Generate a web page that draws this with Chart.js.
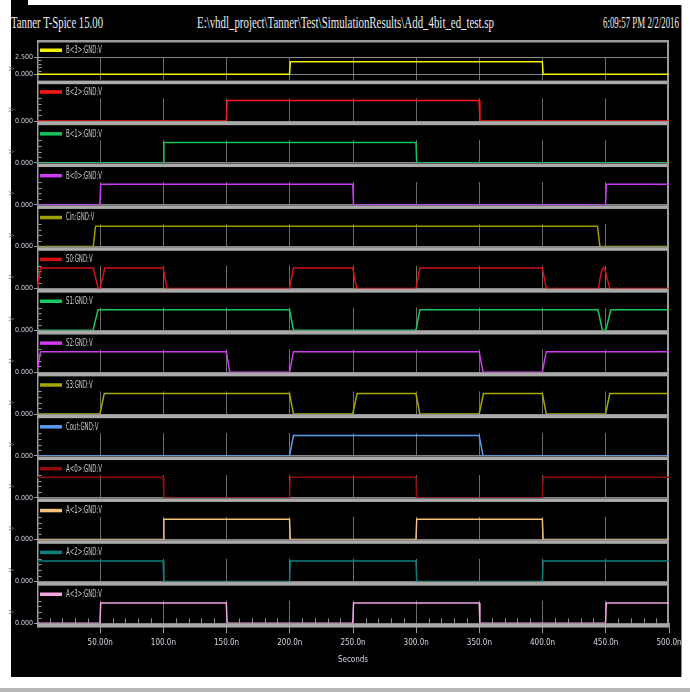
<!DOCTYPE html>
<html>
<head>
<meta charset="utf-8">
<title>Add_4bit_ed_test.sp</title>
<script src="https://cdn.jsdelivr.net/npm/chart.js@4.4.1/dist/chart.umd.min.js"></script>
<style>
  html, body { margin: 0; padding: 0; background: #fff; }
  #frame { position: relative; width: 690px; height: 692px; overflow: hidden; background: #fff; }
  #screen { position: absolute; left: 11px; top: 5px; width: 670px; height: 672px; background: #000; }
  #corner { position: absolute; left: 11px; top: 0; width: 17px; height: 5px; background: #000; }
  #edgeRight { position: absolute; left: 681px; top: 5px; width: 1px; height: 672px; background: #8c8c8c; }
  #edgeBottom { position: absolute; left: 0; top: 688px; width: 690px; height: 4px; background: #b8b8b8; }
  #frame canvas { position: absolute; left: 0; }
  .hdr { position: absolute; top: 13px; font: 16px "Liberation Serif", "DejaVu Serif", serif; color: #ececec;
         white-space: nowrap; transform-origin: left center; line-height: 20px; }
</style>
</head>
<body>
<div id="frame">
  <div id="screen"></div>
  <div id="corner"></div>
  <div id="edgeRight"></div>
  <div id="edgeBottom"></div>
  <span class="hdr" id="hdrLeft">Tanner T-Spice 15.00</span>
  <span class="hdr" id="hdrMid">E:\vhdl_project\Tanner\Test\SimulationResults\Add_4bit_ed_test.sp</span>
  <span class="hdr" id="hdrRight">6:09:57 PM 2/2/2016</span>
</div>
<script>
// ---- data (time in ns, level in V) ----
const signalLabels = ['B<3>:GND:V', 'B<2>:GND:V', 'B<1>:GND:V', 'B<0>:GND:V', 'Cin:GND:V', 'S0:GND:V', 'S1:GND:V',
                      'S2:GND:V', 'S3:GND:V', 'Cout:GND:V', 'A<0>:GND:V', 'A<1>:GND:V', 'A<2>:GND:V', 'A<3>:GND:V'];
const signalColors = ['#f2f200', '#ff1a1a', '#16c25e', '#c93cf5', '#9e9e00', '#d81010', '#18c860',
                      '#d23cf0', '#a6a800', '#5a9cf0', '#920c0c', '#f3c27e', '#0d7f7f', '#f4a6e2'];

const b3Time = [0, 199.8, 200.4, 399.8, 400.4, 500];
const b3Volt = [0, 0, 1.8, 1.8, 0, 0];
const b2Time = [0, 149.8, 150.4, 349.8, 350.4, 500];
const b2Volt = [0, 0, 1.8, 1.8, 0, 0];
const b1Time = [0, 99.8, 100.4, 299.8, 300.4, 500];
const b1Volt = [0, 0, 1.8, 1.8, 0, 0];
const b0Time = [0, 49.8, 50.4, 249.8, 250.4, 449.8, 450.4, 500];
const b0Volt = [0, 0, 1.8, 1.8, 0, 0, 1.8, 1.8];
const cinTime = [0, 44.5, 46.3, 443.5, 445.3, 500];
const cinVolt = [0, 0, 1.8, 1.8, 0, 0];

const s0Time = [0, 2.8, 44.5, 48.4, 49.8, 53.7, 99.8, 102.9, 199.8, 202.9, 249.8, 252.9, 299.8, 302.9,
                399.8, 402.9, 444.2, 445.5, 446.8, 448.1, 449.5, 451.2, 453.2, 500];
const s0Volt = [0, 1.8, 1.8, 0, 0, 1.8, 1.8, 0, 0, 1.8, 1.8, 0, 0, 1.8,
                1.8, 0, 0, 0.9, 1.6, 1.85, 1.6, 0.8, 0, 0];
const s1Time = [0, 44.3, 48.3, 199.8, 202.9, 299.8, 302.9, 443.8, 447.3, 450, 454, 500];
const s1Volt = [0, 0, 1.8, 1.8, 0, 0, 1.8, 1.8, 0, 0, 1.8, 1.8];
const s2Time = [0, 2.8, 149.8, 152.5, 199.8, 202.9, 349.8, 352.9, 399.8, 402.9, 500];
const s2Volt = [0, 1.8, 1.8, 0, 0, 1.8, 1.8, 0, 0, 1.8, 1.8];
const s3Time = [0, 49.8, 53.2, 199.8, 202.9, 249.8, 253.2, 299.8, 302.9, 349.8, 353.2, 399.8, 402.9, 449.8, 453.2, 500];
const s3Volt = [0, 0, 1.8, 1.8, 0, 0, 1.8, 1.8, 0, 0, 1.8, 1.8, 0, 0, 1.8, 1.8];
const coutTime = [0, 199.8, 202.9, 349.8, 352.9, 500];
const coutVolt = [0, 0, 1.8, 1.8, 0, 0];

const a0Time = [0, 99.8, 100.4, 199.8, 200.4, 299.8, 300.4, 399.8, 400.4, 500];
const a0Volt = [1.8, 1.8, 0, 0, 1.8, 1.8, 0, 0, 1.8, 1.8];
const a1Time = [0, 99.8, 100.4, 199.8, 200.4, 299.8, 300.4, 399.8, 400.4, 500];
const a1Volt = [0, 0, 1.8, 1.8, 0, 0, 1.8, 1.8, 0, 0];
const a2Time = [0, 99.8, 100.4, 199.8, 200.4, 299.8, 300.4, 399.8, 400.4, 500];
const a2Volt = [1.8, 1.8, 0, 0, 1.8, 1.8, 0, 0, 1.8, 1.8];
const a3Time = [0, 49.8, 50.4, 149.8, 150.4, 249.8, 250.4, 349.8, 350.4, 449.8, 450.4, 500];
const a3Volt = [0, 0, 1.8, 1.8, 0, 0, 1.8, 1.8, 0, 0, 1.8, 1.8];

const signalTimes = [b3Time, b2Time, b1Time, b0Time, cinTime, s0Time, s1Time, s2Time, s3Time, coutTime, a0Time, a1Time, a2Time, a3Time];
const signalVolts = [b3Volt, b2Volt, b1Volt, b0Volt, cinVolt, s0Volt, s1Volt, s2Volt, s3Volt, coutVolt, a0Volt, a1Volt, a2Volt, a3Volt];

const timeTicks = [0, 50, 100, 150, 200, 250, 300, 350, 400, 450, 500];
const timeTickLabels = ['', '50.00n', '100.0n', '150.0n', '200.0n', '250.0n', '300.0n', '350.0n', '400.0n', '450.0n', '500.0n'];
const firstVoltTicks = [0, 2.5];
const firstVoltLabels = ['0.000', '2.500'];
const voltTicks = [0];
const voltLabels = ['0.000'];

// ---- layout of the stacked panels ----
const FRAME_W = 690, PLOT_LEFT = 37, PLOT_RIGHT = 669, SCREEN_BOTTOM = 677;
const NARROW = '"Liberation Sans Narrow", "DejaVu Sans Condensed", sans-serif';
Chart.defaults.font.family = NARROW;

const panels = [{ top: 40, areaTop: 57, areaBottom: 80, legendY: 50, yMin: -0.84, yMax: 2.5 }];
for (let k = 1; k < signalLabels.length; k++) {
    const zero = 121 + (k - 1) * 41.86;
    panels.push({ top: Math.round(zero - 38), areaTop: zero - 22.7, areaBottom: zero, legendY: zero - 29.3, yMin: 0, yMax: 2 });
}

// band under each trace, frame sides, little inner ticks and the trace name
const waveDeco = {
    id: 'waveDeco',
    beforeDatasetsDraw(chart, args, opts) {
        const { ctx, chartArea: a, scales: { x, y } } = chart;
        ctx.save();
        ctx.fillStyle = '#aaaaaa';
        ctx.fillRect(a.left, a.bottom + 0.6, a.right - a.left, 3.6);
        ctx.fillStyle = '#9c9c9c';
        ctx.fillRect(a.left, 0, 1.5, a.bottom + 4);
        ctx.fillRect(a.right - 2, 0, 2, a.bottom + 4);
        if (opts.topLine) ctx.fillRect(a.left, 0, a.right - a.left, 2.5);

        ctx.strokeStyle = '#a0a0a0';
        ctx.lineWidth = 1;
        ctx.beginPath();
        for (let v = 0.5; v <= y.max + 1e-6; v += 0.5) {
            const py = Math.round(y.getPixelForValue(v)) + 0.5;
            ctx.moveTo(a.left + 1.5, py);
            ctx.lineTo(a.left + 4.5, py);
        }
        ctx.stroke();
        if (opts.minorTimeTicks) {
            ctx.strokeStyle = '#8c8c8c';
            ctx.beginPath();
            for (let t = 10; t < x.max; t += 10) {
                if (t % 50 === 0) continue;
                const px = Math.round(x.getPixelForValue(t)) + 0.5;
                ctx.moveTo(px, a.bottom - 5);
                ctx.lineTo(px, a.bottom);
            }
            ctx.stroke();
        }
        ctx.restore();
    },
    afterDraw(chart, args, opts) {
        const ds = chart.data.datasets[0];
        const ctx = chart.ctx;
        const x0 = chart.chartArea.left + 3;
        ctx.save();
        ctx.fillStyle = ds.borderColor;
        ctx.fillRect(x0, opts.legendY - 1.5, 22, 3.5);
        ctx.font = '10px ' + NARROW;
        ctx.fillStyle = '#c8c8c8';
        ctx.textBaseline = 'middle';
        ctx.translate(x0 + 26, opts.legendY + 0.5);
        ctx.scale(0.6, 1);
        ctx.fillText(ds.label, 0, 0);
        ctx.restore();
    }
};

const frame = document.getElementById('frame');

panels.forEach((p, i) => {
    const last = i === panels.length - 1;
    const bottom = last ? SCREEN_BOTTOM : panels[i + 1].top + 8;
    const height = bottom - p.top;
    const areaBottom = p.areaBottom - p.top;
    const yTickValues = i === 0 ? firstVoltTicks : voltTicks;
    const yTickLabels = i === 0 ? firstVoltLabels : voltLabels;

    const canvas = document.createElement('canvas');
    canvas.width = FRAME_W;
    canvas.height = height;
    canvas.style.top = p.top + 'px';
    frame.appendChild(canvas);

    new Chart(canvas, {
        type: 'line',
        data: {
            datasets: [{
                label: signalLabels[i],
                data: signalTimes[i].map((t, j) => ({ x: t, y: signalVolts[i][j] })),
                borderColor: signalColors[i],
                borderWidth: 1.5,
                pointRadius: 0,
                tension: 0,
                fill: false
            }]
        },
        options: {
            responsive: false,
            animation: false,
            devicePixelRatio: 1,
            events: [],
            layout: { padding: { top: p.areaTop - p.top, right: FRAME_W - PLOT_RIGHT, bottom: 0, left: 0 } },
            plugins: {
                legend: { display: false },
                tooltip: { enabled: false },
                waveDeco: { legendY: p.legendY - p.top, topLine: i === 0, minorTimeTicks: last }
            },
            scales: {
                x: {
                    type: 'linear',
                    min: 0,
                    max: 500,
                    afterBuildTicks: s => { s.ticks = timeTicks.map(v => ({ value: v })); },
                    afterFit: s => { s.height = height - areaBottom; s.paddingLeft = 0; s.paddingRight = 0; },
                    border: { display: false },
                    grid: {
                        color: c => (c.tick && (c.tick.value === 0 || c.tick.value === 500)) ? 'rgba(0,0,0,0)' : '#6c6c6c',
                        lineWidth: 1,
                        drawTicks: last,
                        tickLength: 10,
                        tickColor: c => (c.tick && c.tick.value === 0) ? 'rgba(0,0,0,0)' : '#9a9a9a'
                    },
                    ticks: {
                        display: last,
                        autoSkip: false,
                        maxRotation: 0,
                        minRotation: 0,
                        padding: 5,
                        color: '#d2d8e6',
                        font: { size: 8 },
                        callback: (v, idx) => timeTickLabels[idx]
                    },
                    title: {
                        display: last,
                        text: 'Seconds',
                        color: '#d2d8e6',
                        font: { size: 8 },
                        padding: { top: 0, bottom: 12 }
                    }
                },
                y: {
                    min: p.yMin,
                    max: p.yMax,
                    afterBuildTicks: s => { s.ticks = yTickValues.map(v => ({ value: v })); },
                    afterFit: s => { s.width = PLOT_LEFT; s.paddingTop = 0; s.paddingBottom = 0; },
                    border: { display: false },
                    grid: {
                        color: '#868686',
                        lineWidth: 1,
                        drawTicks: true,
                        tickLength: 3,
                        tickColor: '#a0a0a0'
                    },
                    ticks: {
                        padding: 1,
                        color: '#ccd2e0',
                        font: { size: 7 },
                        callback: (v, idx) => yTickLabels[idx]
                    },
                    title: {
                        display: true,
                        text: 'V',
                        color: '#5e5e5e',
                        font: { size: 7 },
                        padding: { top: 8, bottom: 0 }
                    }
                }
            }
        },
        plugins: [waveDeco]
    });
});

// squeeze the header strings to the width they take in the window title
function fitHeader(id, left, right) {
    const el = document.getElementById(id);
    el.style.left = left + 'px';
    const w = el.getBoundingClientRect().width;
    el.style.transform = 'scaleX(' + ((right - left) / w) + ')';
}
fitHeader('hdrLeft', 11, 103);
fitHeader('hdrMid', 197, 494);
fitHeader('hdrRight', 603, 679);
</script>
</body>
</html>
